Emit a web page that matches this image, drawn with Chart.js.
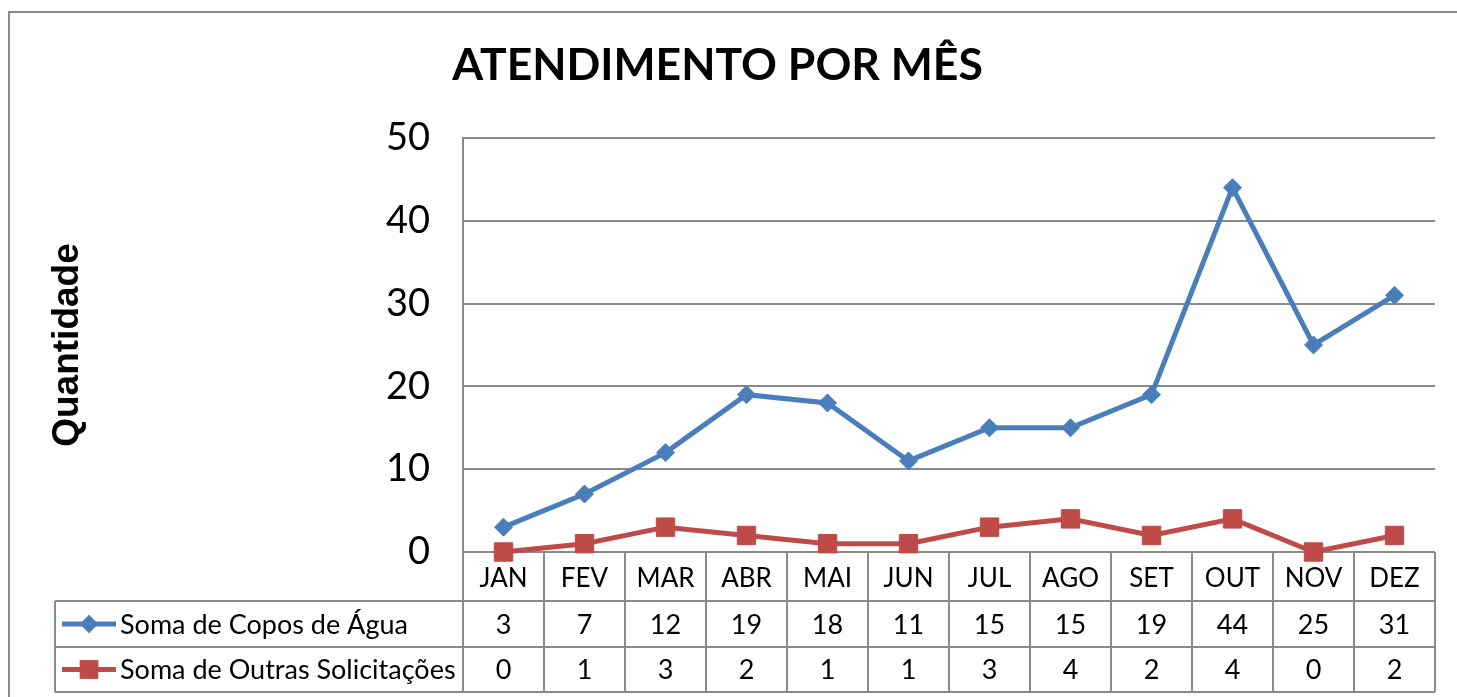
<!DOCTYPE html>
<html>
<head>
<meta charset="utf-8">
<script src="https://cdn.jsdelivr.net/npm/chart.js@4.4.0/dist/chart.umd.min.js"></script>
<style>
  html, body { margin: 0; padding: 0; background: #fff; }
  #wrap { width: 1457px; height: 697px; }
</style>
</head>
<body>
<div id="wrap"><canvas id="graph" width="1457" height="697"></canvas></div>
<script>
const months = ['JAN', 'FEV', 'MAR', 'ABR', 'MAI', 'JUN', 'JUL', 'AGO', 'SET', 'OUT', 'NOV', 'DEZ'];
const copos = [3, 7, 12, 19, 18, 11, 15, 15, 19, 44, 25, 31];
const outras = [0, 1, 3, 2, 1, 1, 3, 4, 2, 4, 0, 2];
const seriesNames = ['Soma de Copos de Água', 'Soma de Outras Solicitações'];
const yTicks = [0, 10, 20, 30, 40, 50];

const blue = '#4a7ebb';
const red = '#be4b48';
const gridColor = '#8a8a8a';
const excelFont = 'Lato, "Open Sans", sans-serif';

const canvas = document.getElementById('graph');
const ctx = canvas.getContext('2d');

// outer frame + data table under the plot
const tablePlugin = {
  id: 'dataTable',
  beforeDraw(chart) {
    const c = chart.ctx;
    c.save();
    c.strokeStyle = gridColor;
    c.lineWidth = 2;
    c.strokeRect(9, 12, 1470, 720);
    c.restore();
  },
  afterDraw(chart) {
    const c = chart.ctx;
    const xs = chart.scales.x;
    const area = chart.chartArea;
    const rows = [area.bottom, area.bottom + 49, area.bottom + 95, area.bottom + 140];
    const legendLeft = 55;

    const centers = months.map((m, i) => xs.getPixelForValue(i));
    const half = (centers[1] - centers[0]) / 2;
    const edges = centers.map(x => x - half);
    edges.push(centers[centers.length - 1] + half);

    c.save();
    c.strokeStyle = gridColor;
    c.lineWidth = 2;
    c.beginPath();
    // horizontal rules
    c.moveTo(legendLeft, rows[1]); c.lineTo(edges[12], rows[1]);
    c.moveTo(legendLeft, rows[2]); c.lineTo(edges[12], rows[2]);
    c.moveTo(legendLeft, rows[3]); c.lineTo(edges[12], rows[3]);
    // vertical rules
    edges.forEach(x => { c.moveTo(x, rows[0]); c.lineTo(x, rows[3]); });
    c.moveTo(legendLeft, rows[1]); c.lineTo(legendLeft, rows[3]);
    c.stroke();

    c.fillStyle = '#000';
    c.textAlign = 'center';
    c.textBaseline = 'middle';
    c.font = '26px ' + excelFont;
    months.forEach((m, i) => c.fillText(m, centers[i], (rows[0] + rows[1]) / 2 + 2));
    c.font = '27px ' + excelFont;
    copos.forEach((v, i) => c.fillText(String(v), centers[i], (rows[1] + rows[2]) / 2 + 1));
    outras.forEach((v, i) => c.fillText(String(v), centers[i], (rows[2] + rows[3]) / 2 + 1));

    // legend keys
    const keys = [
      { color: blue, style: 'rectRot', radius: 9 },
      { color: red, style: 'rect', radius: 13 }
    ];
    keys.forEach((k, r) => {
      const y = (rows[r + 1] + rows[r + 2]) / 2;
      c.strokeStyle = k.color;
      c.lineWidth = 5;
      c.beginPath();
      c.moveTo(62, y); c.lineTo(116, y);
      c.stroke();
      c.fillStyle = k.color;
      Chart.helpers.drawPoint(c, { pointStyle: k.style, radius: k.radius, borderWidth: 0 }, 89, y);
      c.fill();
      c.fillStyle = '#000';
      c.textAlign = 'left';
      c.font = '27px ' + excelFont;
      c.fillText(seriesNames[r], 120, y + 1);
    });
    c.restore();
  }
};

new Chart(ctx, {
  type: 'line',
  data: {
    labels: months,
    datasets: [
      {
        label: seriesNames[0],
        data: copos,
        borderColor: blue,
        backgroundColor: blue,
        borderWidth: 5,
        pointStyle: 'rectRot',
        pointRadius: 9,
        pointBorderWidth: 1,
        tension: 0,
        clip: false
      },
      {
        label: seriesNames[1],
        data: outras,
        borderColor: red,
        backgroundColor: red,
        borderWidth: 5,
        pointStyle: 'rect',
        pointRadius: 13,
        pointBorderWidth: 1,
        tension: 0,
        clip: false
      }
    ]
  },
  options: {
    responsive: false,
    animation: false,
    layout: { padding: { top: 0, right: 22, bottom: 145, left: 0 } },
    plugins: {
      legend: { display: false },
      tooltip: { enabled: false },
      title: {
        display: true,
        text: 'ATENDIMENTO POR MÊS',
        color: '#000',
        font: { family: excelFont, size: 44.5, weight: 'bold', lineHeight: 1.2 },
        padding: { top: 39, bottom: 45.6 }
      }
    },
    scales: {
      x: {
        type: 'category',
        display: false,
        offset: true
      },
      y: {
        min: 0,
        max: 50,
        afterFit(scale) { scale.width = 463; },
        afterBuildTicks(scale) { scale.ticks = yTicks.map(v => ({ value: v })); },
        grid: { color: gridColor, lineWidth: 2, drawTicks: false },
        border: { display: true, color: gridColor, width: 2 },
        ticks: {
          color: '#000',
          padding: 33,
          font: { family: excelFont, size: 38 }
        },
        title: {
          display: true,
          text: 'Quantidade',
          color: '#000',
          font: { family: '"Liberation Sans", Arial, sans-serif', size: 37, weight: 'bold', lineHeight: 1.2 },
          padding: { top: 46 }
        }
      }
    }
  },
  plugins: [tablePlugin]
});
</script>
</body>
</html>
